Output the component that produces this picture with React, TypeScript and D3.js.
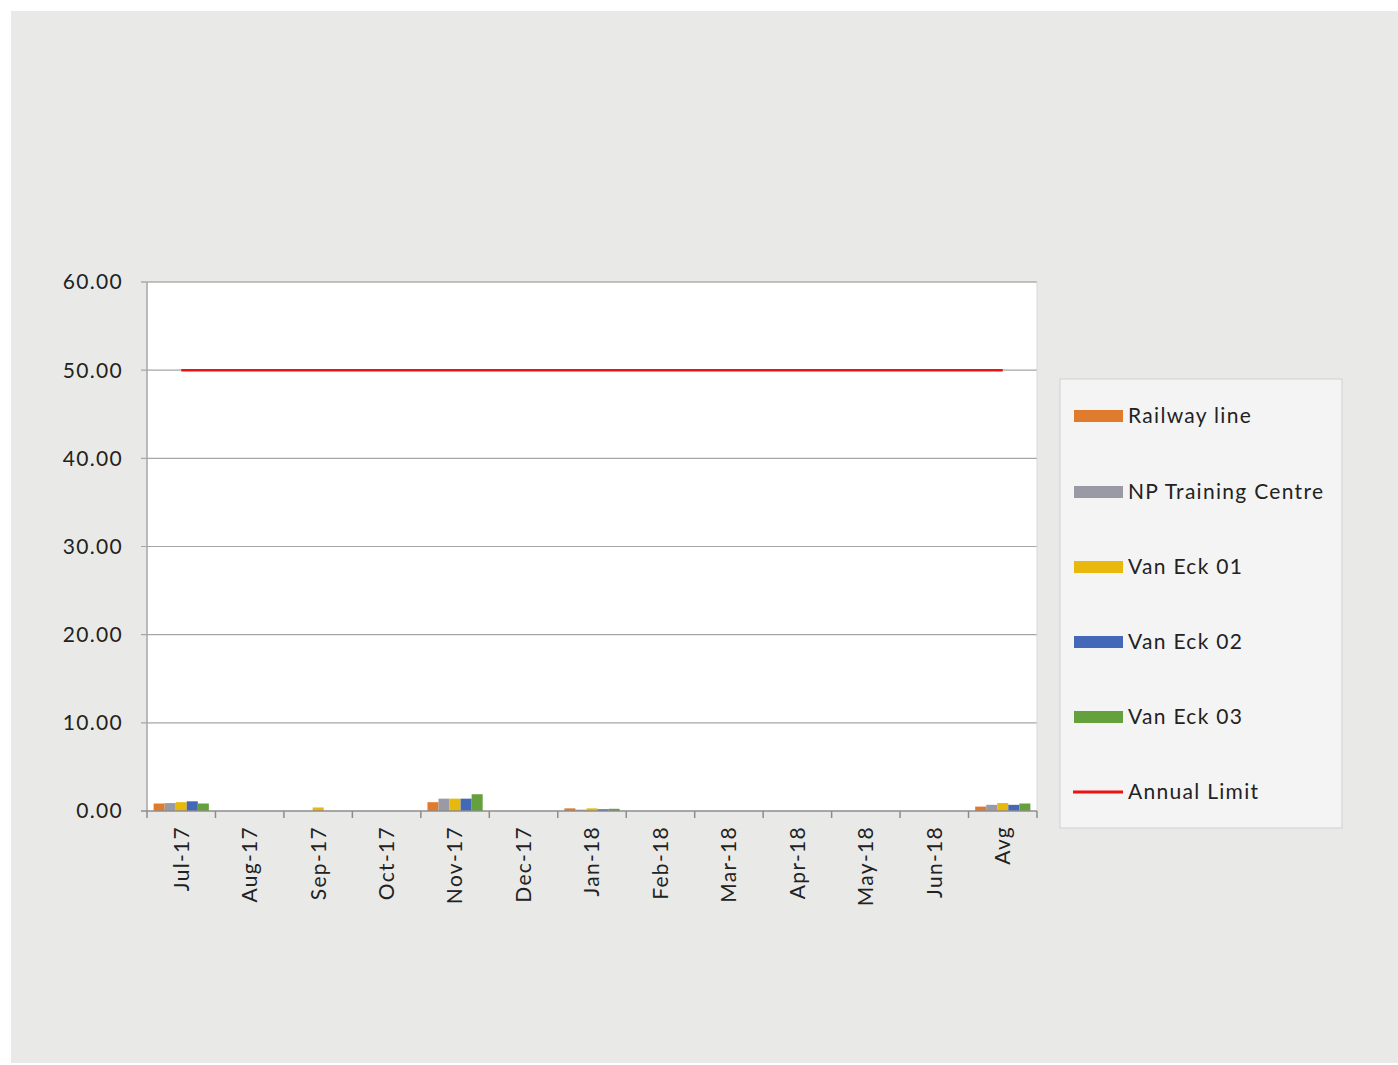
import React from "react";
import * as d3 from "d3";

const categories = ["Jul-17","Aug-17","Sep-17","Oct-17","Nov-17","Dec-17","Jan-18","Feb-18","Mar-18","Apr-18","May-18","Jun-18","Avg"];
const seriesNames = ["Railway line","NP Training Centre","Van Eck 01","Van Eck 02","Van Eck 03"];
const seriesColors = ["#e07b2e","#9a9aa6","#e8b80c","#4468b8","#64a03c"];
const railway = [0.85,0,0,0,1.0,0,0.3,0,0,0,0,0,0.5];
const npTraining = [0.9,0,0,0,1.4,0,0.15,0,0,0,0,0,0.7];
const vanEck01 = [1.0,0,0.4,0,1.4,0,0.3,0,0,0,0,0,0.9];
const vanEck02 = [1.1,0,0,0,1.4,0,0.2,0,0,0,0,0,0.7];
const vanEck03 = [0.85,0,0,0,1.9,0,0.25,0,0,0,0,0,0.85];
const annualLimit = 50;
const yTicks = [0,10,20,30,40,50,60];

export default function App() {
  const series = [railway, npTraining, vanEck01, vanEck02, vanEck03];
  const left = 147, right = 1037, top = 282, bottom = 811;
  const x = d3.scaleBand<string>().domain(categories).range([left, right]);
  const y = d3.scaleLinear().domain([0, 60]).range([bottom, top]);
  const inner = d3.scaleBand<number>().domain(d3.range(5)).range([0, x.bandwidth()]).paddingOuter(0.6);
  const font = "'Lato', 'Open Sans', sans-serif";
  const ls = 1.3;
  const line = d3.line<string>().x(c => x(c)! + x.bandwidth() / 2).y(() => y(annualLimit));
  const legendRows = [416, 492, 567, 642, 717, 792];
  return (
    <svg width={1398} height={1065} style={{ position: "absolute", left: 0, top: 0 }}>
      <rect x={11} y={11} width={1387} height={1052} fill="#e9eae8" />
      <rect x={left} y={top} width={right - left} height={bottom - top} fill="#ffffff" />
      {yTicks.map(t => (
        <g key={t}>
          {t > 0 && <line x1={141} x2={right} y1={y(t)} y2={y(t)} stroke={t === 60 ? "#8c8c8c" : "#a6a6a6"} strokeWidth={1.2} />}
          <text x={123} y={y(t)} dy="0.35em" textAnchor="end" fontFamily={font} fontSize={21} letterSpacing={ls} fill="#222">{t.toFixed(2)}</text>
        </g>
      ))}
      <line x1={right} x2={right} y1={top} y2={bottom} stroke="#d8d8d8" />
      <line x1={left} x2={left} y1={top} y2={bottom} stroke="#a6a6a6" strokeWidth={1.5} />
      {series.map((vals, si) => categories.map((c, i) => (
        vals[i] > 0 ? (
          <rect key={si + "-" + i} x={x(c)! + inner(si)!} y={y(vals[i])} width={inner.bandwidth()} height={bottom - y(vals[i])} fill={seriesColors[si]} />
        ) : null
      )))}
      <line x1={141} x2={right} y1={bottom} y2={bottom} stroke="#8c8c8c" strokeWidth={1.5} />
      {[...categories.map(c => x(c)!), right].map((tx, i) => (
        <line key={i} x1={tx} x2={tx} y1={bottom} y2={bottom + 7} stroke="#8c8c8c" strokeWidth={1.5} />
      ))}
      {categories.map(c => (
        <text key={c} transform={`translate(${x(c)! + x.bandwidth() / 2},826) rotate(-90)`} dy="0.35em" textAnchor="end" fontFamily={font} fontSize={21} letterSpacing={ls} fill="#222">{c}</text>
      ))}
      <path d={line([categories[0], categories[categories.length - 1]])!} stroke="#ee1111" strokeWidth={2.5} fill="none" />
      <rect x={1060} y={379} width={282} height={449} fill="#f4f4f4" stroke="#d0d0d0" />
      {seriesNames.map((n, i) => (
        <g key={n}>
          <rect x={1074} y={legendRows[i] - 6} width={49} height={12} fill={seriesColors[i]} />
          <text x={1128} y={legendRows[i]} dy="0.35em" fontFamily={font} fontSize={21} letterSpacing={ls} fill="#222">{n}</text>
        </g>
      ))}
      <line x1={1073} x2={1123} y1={legendRows[5]} y2={legendRows[5]} stroke="#ee1111" strokeWidth={3} />
      <text x={1128} y={legendRows[5]} dy="0.35em" fontFamily={font} fontSize={21} letterSpacing={ls} fill="#222">Annual Limit</text>
    </svg>
  );
}
